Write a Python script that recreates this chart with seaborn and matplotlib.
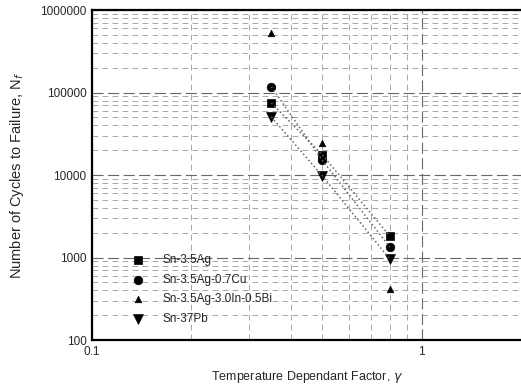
import numpy as np
import pandas as pd
import matplotlib
matplotlib.use("Agg")
import matplotlib.pyplot as plt
import matplotlib.ticker as mticker
import seaborn as sns

# ── data ─────────────────────────────────────────────────────
gamma = [0.35, 0.5, 0.8]
sn_ag = [74600, 17500, 1820]
sn_ag_cu = [117000, 15000, 1340]
sn_ag_in_bi = [526000, 24400, 415]
sn_pb = [50500, 9700, 960]

alloys = ["Sn-3.5Ag", "Sn-3.5Ag-0.7Cu", "Sn-3.5Ag-3.0In-0.5Bi", "Sn-37Pb"]
cycles = [sn_ag, sn_ag_cu, sn_ag_in_bi, sn_pb]

df = pd.DataFrame({
    "gamma": gamma * len(alloys),
    "Nf": sum(cycles, []),
    "alloy": np.repeat(alloys, len(gamma)),
})

sns.set_style("white")
plt.rcParams["font.family"] = ["Liberation Sans", "DejaVu Sans"]

fig = plt.figure(figsize=(5.21, 3.87), dpi=100)
ax = fig.add_axes([0.1766, 0.1214, 0.8234, 0.8527])

# dotted trend lines
lines = df[df["alloy"] != "Sn-3.5Ag-3.0In-0.5Bi"]
sns.lineplot(data=lines, x="gamma", y="Nf", units="alloy", estimator=None,
             color="0.4", linestyle=":", linewidth=1.1, ax=ax, legend=False)

markers = {"Sn-3.5Ag": "s", "Sn-3.5Ag-0.7Cu": "o",
           "Sn-3.5Ag-3.0In-0.5Bi": "^", "Sn-37Pb": "v"}
sizes = {"Sn-3.5Ag": 40, "Sn-3.5Ag-0.7Cu": 38,
         "Sn-3.5Ag-3.0In-0.5Bi": 22, "Sn-37Pb": 50}
for a in alloys:
    sns.scatterplot(data=df[df["alloy"] == a], x="gamma", y="Nf",
                    marker=markers[a], s=sizes[a], color="black",
                    edgecolor="black", linewidth=0.5, label=a, ax=ax)

ax.set_xscale("log")
ax.set_yscale("log")
ax.set_xlim(0.1, 2)
ax.set_ylim(100, 1000000)

ax.xaxis.set_major_locator(mticker.FixedLocator([0.1, 1]))
ax.xaxis.set_major_formatter(mticker.FixedFormatter(["0.1", "1"]))
ax.xaxis.set_minor_locator(mticker.LogLocator(base=10, subs=np.arange(2, 10)))
ax.xaxis.set_minor_formatter(mticker.NullFormatter())
ax.yaxis.set_major_locator(mticker.LogLocator(base=10))
ax.yaxis.set_major_formatter(mticker.FuncFormatter(lambda v, p: f"{int(round(v))}"))
ax.yaxis.set_minor_locator(mticker.LogLocator(base=10, subs=np.arange(2, 10)))
ax.yaxis.set_minor_formatter(mticker.NullFormatter())

ax.grid(True, which="major", color="0.4", linestyle=(0, (10, 4)), linewidth=0.8)
ax.grid(True, which="minor", color="0.6", linestyle=(0, (7, 5)), linewidth=0.6)
ax.tick_params(which="both", length=0, labelsize=8.5, pad=4)

for s in ["left", "bottom", "top"]:
    ax.spines[s].set_linewidth(1.6)
    ax.spines[s].set_color("black")
ax.spines["right"].set_visible(False)

ax.set_xlabel("Temperature Dependant Factor, $\\gamma$", fontsize=9, labelpad=8)
ax.set_ylabel("Number of Cycles to Failure, N$_f$", fontsize=10.5, labelpad=10)

ax.legend(loc="lower left", bbox_to_anchor=(0.06, 0.02), frameon=False,
          fontsize=8.5, handletextpad=1.1, labelspacing=0.65, borderpad=0.2)

fig.savefig("out.png", dpi=100)
